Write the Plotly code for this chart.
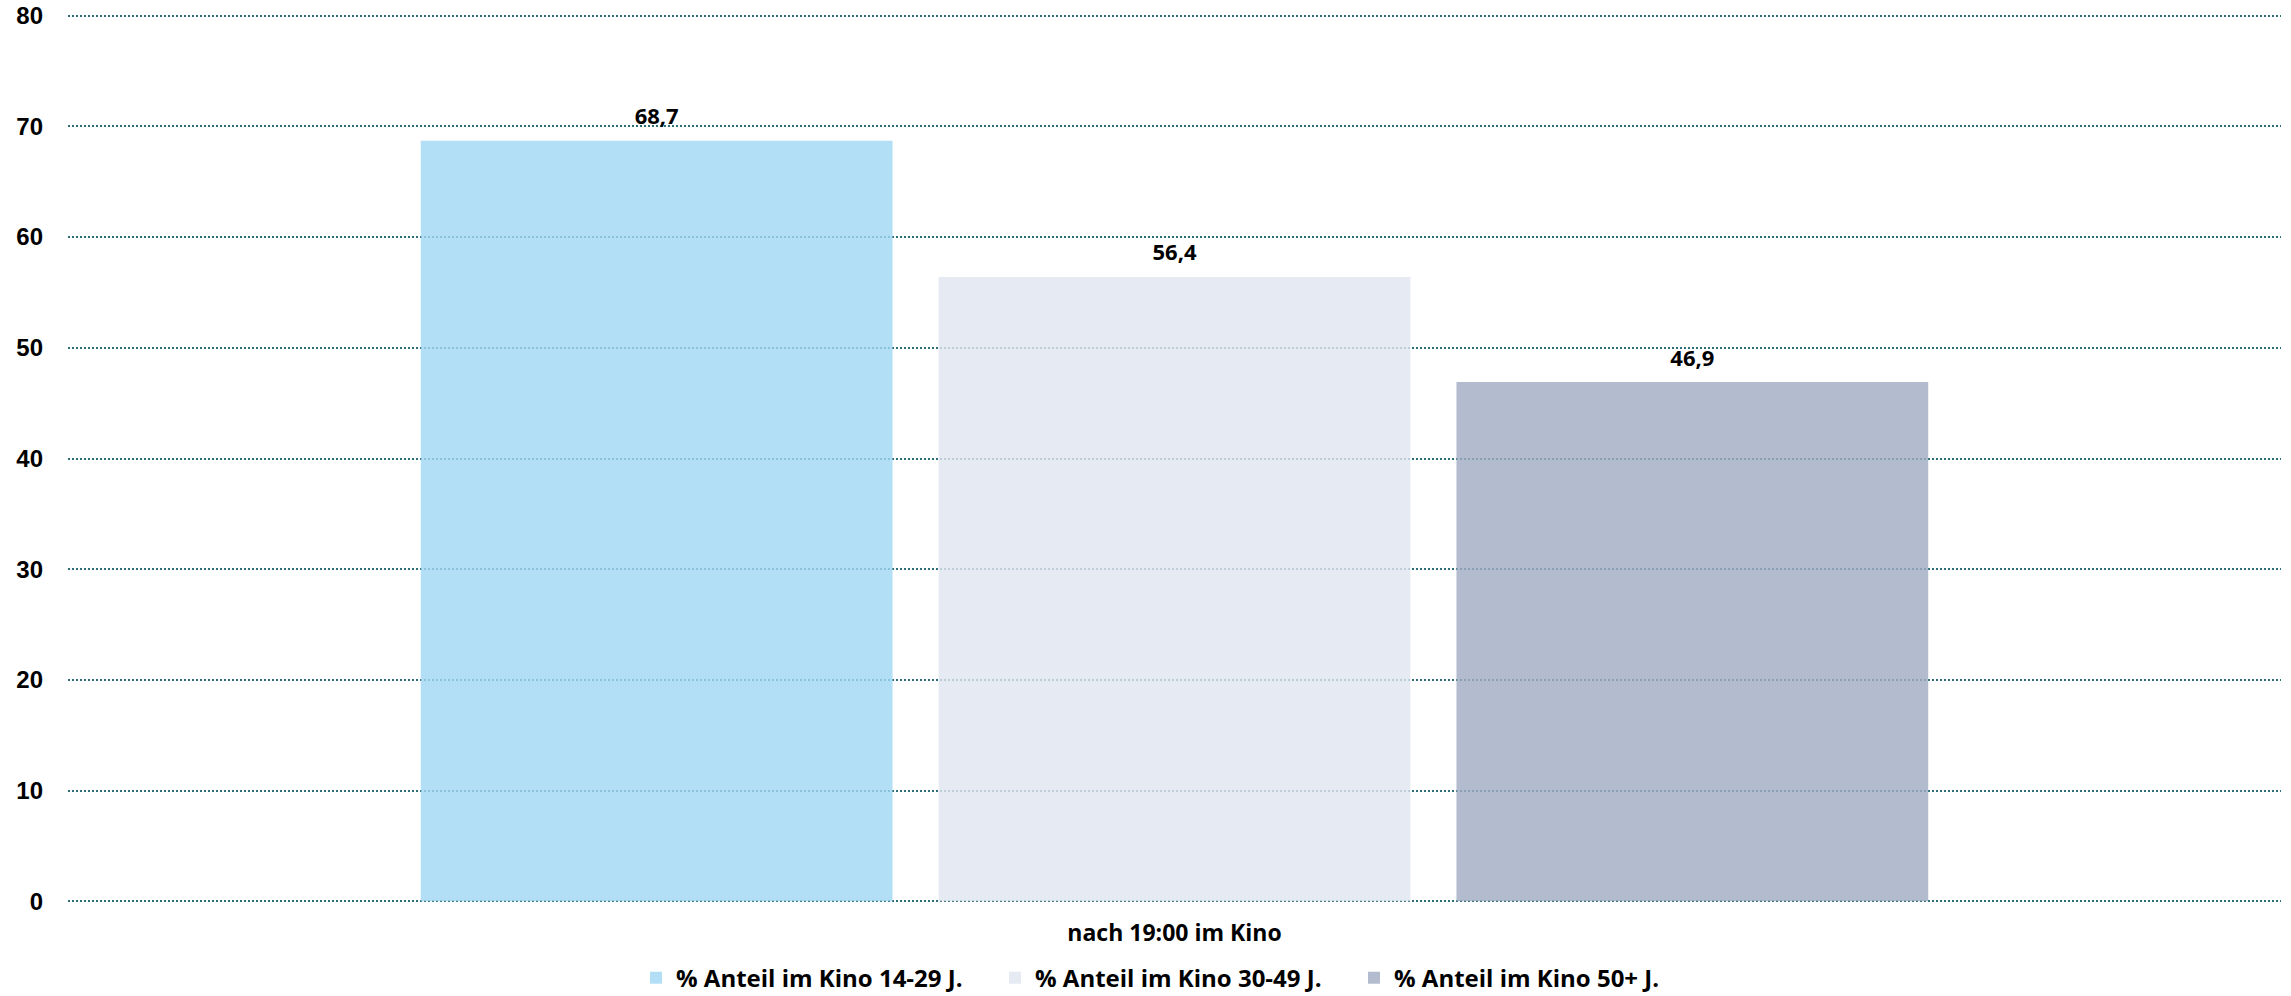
import plotly.graph_objects as go

categories = ["nach 19:00 im Kino"]
series_names = ["% Anteil im Kino 14-29 J.", "% Anteil im Kino 30-49 J.", "% Anteil im Kino 50+ J."]
series_values = [[68.7], [56.4], [46.9]]
series_colors = ["#A0D8F4", "#E0E5F1", "#A1ACC3"]
y_ticks = [0, 10, 20, 30, 40, 50, 60, 70, 80]

FONT = "Open Sans"

fig = go.Figure()
for i, (name, vals, col) in enumerate(zip(series_names, series_values, series_colors)):
    fig.add_trace(go.Bar(
        x=categories, y=vals, name=name, offsetgroup=str(i),
        opacity=0.8,
        marker=dict(color=col, line=dict(width=0)),
    ))
for i, vals in enumerate(series_values):
    fig.add_trace(go.Scatter(
        x=categories, y=vals, mode="markers+text", offsetgroup=str(i),
        text=[f"{v:.1f}".replace(".", ",") for v in vals],
        textposition="top center",
        marker=dict(size=16, opacity=0),
        textfont=dict(family=FONT, size=22, color="#000000", weight="bold"),
        showlegend=False, hoverinfo="skip", cliponaxis=False,
    ))

fig.update_layout(
    width=2291, height=996,
    margin=dict(l=68, r=10, t=14, b=93, autoexpand=False),
    paper_bgcolor="white", plot_bgcolor="white",
    barmode="group", bargap=0.298, bargroupgap=0.089,
    scattermode="group", scattergap=0.298,
    separators=",.",
    showlegend=True,
    legend=dict(orientation="h", x=0.5, xanchor="center", y=-0.0845, yanchor="middle",
                font=dict(family=FONT, size=24, color="#000000", weight="bold"),
                itemwidth=30, entrywidth=314, traceorder="normal"),
    font=dict(family=FONT, color="#000000"),
)
fig.update_yaxes(
    range=[-0.15, 80.15], tickvals=y_ticks, showgrid=True,
    gridcolor="#2E6E78", gridwidth=1.5, griddash="2px,2px",
    zeroline=False, showline=False, ticks="",
    ticklabelstandoff=24,
    tickfont=dict(family="Liberation Sans", size=24, color="#000000", weight="bold"),
)
fig.update_xaxes(
    showgrid=False, showline=False, ticks="", zeroline=False,
    tickfont=dict(family=FONT, size=23, color="#000000", weight="bold"),
    ticklabelstandoff=14,
)

fig.write_html("out.html", config={"displayModeBar": False},
               post_script="document.body.style.margin='0px';")
